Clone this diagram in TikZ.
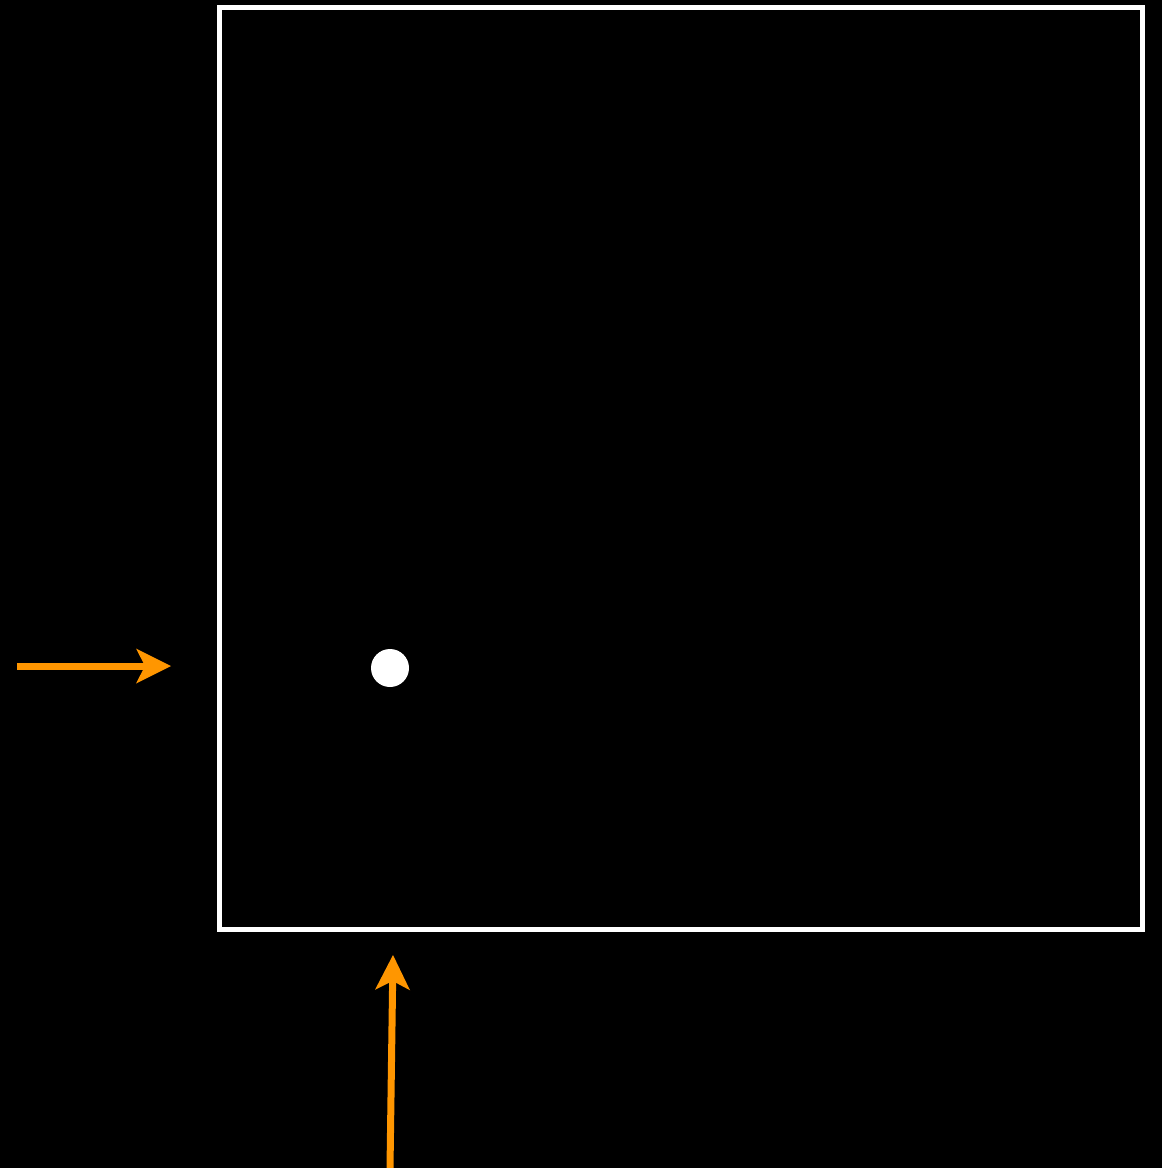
\documentclass[tikz,border=0pt]{standalone}
\usepackage{xcolor}
\usetikzlibrary{arrows.meta, positioning}
\definecolor{pointerorange}{RGB}{255,150,0}

\begin{document}
\begin{tikzpicture}[
    x=1pt, y=-1pt,
    frame/.style={rectangle, draw=white, line width=5pt, minimum width=923pt, minimum height=922pt, inner sep=0pt, outer sep=0pt},
    spot/.style={circle, fill=white, minimum size=38pt, inner sep=0pt},
    pointer/.style={-{Stealth[length=35pt, width=35pt, inset=9pt, line width=0pt]}, line width=7pt, draw=pointerorange}
]
    \fill[black] (0,0) rectangle (1162,1168);
    \useasboundingbox (0,0) rectangle (1162,1168);

    \node[frame] (field) at (681,468.5) {};
    \node[spot] (point) at (390,668) {};

    % Pointers from outside
    \coordinate (leftstart) at (17,666);
    \coordinate (lefttip) at (171,666);
    \coordinate (bottomstart) at (390,1168);
    \coordinate (bottomtip) at (393,955);

    \draw[pointer] (leftstart) -- (lefttip);
    \draw[pointer] (bottomstart) -- (bottomtip);
\end{tikzpicture}
\end{document}
